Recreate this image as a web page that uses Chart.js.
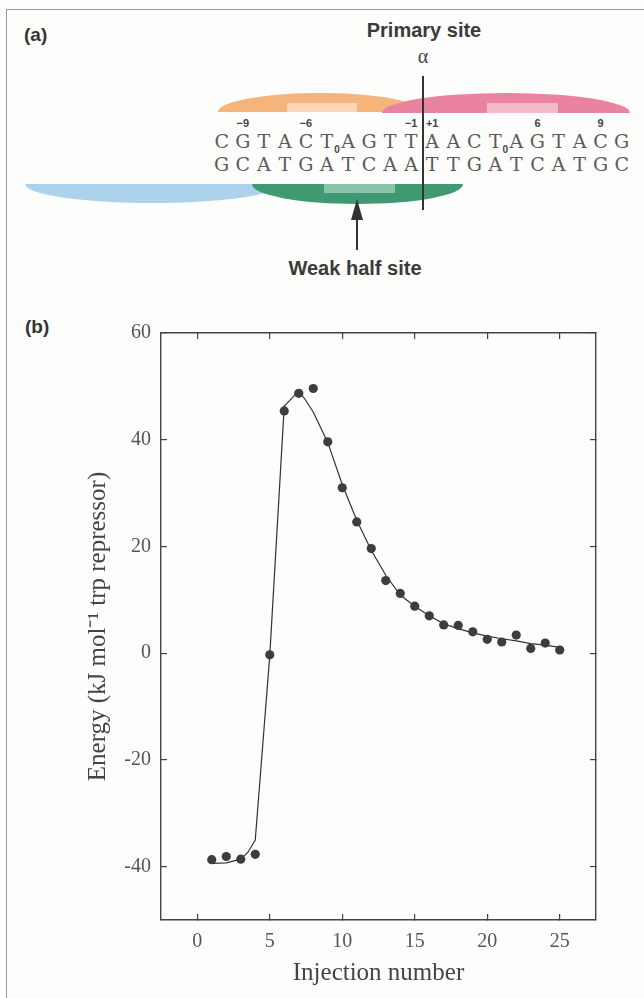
<!DOCTYPE html>
<html>
<head>
<meta charset="utf-8">
<script src="https://cdn.jsdelivr.net/npm/chart.js@4.4.1/dist/chart.umd.min.js"></script>
<style>
  body { margin: 0; background: #fff; }
  #page { position: relative; width: 644px; height: 998px; overflow: hidden; background: #fdfdfb; }
  #frame { position: absolute; left: 6px; top: 9px; right: -10px; bottom: -10px;
           border-top: 1.5px solid #9a9a9a; border-left: 1.5px solid #9a9a9a; }
  #chartBox { position: absolute; left: 0; top: 290px; width: 644px; height: 708px; }
  #diagram { position: absolute; left: 0; top: 0; }
</style>
</head>
<body>
<div id="page">
  <div id="frame"></div>
  <svg id="diagram" width="644" height="345" xmlns="http://www.w3.org/2000/svg"></svg>
  <div id="chartBox"><canvas id="energyChart" width="644" height="708"></canvas></div>
</div>
<script>
// ---- panel (b) data ----
const injection = [1, 2, 3, 4, 5, 6, 7, 8, 9, 10, 11, 12, 13, 14, 15, 16, 17, 18, 19, 20, 21, 22, 23, 24, 25];
const energy = [-38.7, -38.1, -38.6, -37.7, -0.3, 45.4, 48.7, 49.6, 39.6, 31.0, 24.6, 19.6, 13.6,
                11.2, 8.8, 7.0, 5.3, 5.2, 4.0, 2.6, 2.1, 3.4, 0.9, 1.9, 0.6];
// fitted curve
const fitInjection = [1, 2, 3, 3.5, 4, 5, 6, 6.5, 7, 7.5, 8, 9, 10, 11, 12, 13, 14, 15, 16, 17, 18, 19, 20, 21, 22, 23, 24, 25];
const fitEnergy = [-39.4, -39.3, -38.6, -37.3, -35.0, -0.5, 46.3, 47.7, 49.2, 47.3, 45.2, 39.5, 31.6, 24.9, 19.3, 14.6,
                   10.9, 8.8, 7.0, 5.5, 4.6, 3.8, 3.2, 2.7, 2.3, 1.8, 1.5, 1.1];
const xTicks = [0, 5, 10, 15, 20, 25];
const yTicks = [-40, -20, 0, 20, 40, 60];

// ---- panel (a) data ----
const topStrand = ['C','G','T','A','C','T','A','G','T','T','A','A','C','T','A','G','T','A','C','G'];
const bottomStrand = ['G','C','A','T','G','A','T','C','A','A','T','T','G','A','T','C','A','T','G','C'];
const positionLabels = ['−9', '−6', '−1', '+1', '6', '9'];
const positionIndex = [1, 4, 9, 10, 15, 18];
const subscriptIndex = [5, 13];

// ---- draw panel (a) as svg ----
const svg = document.getElementById('diagram');
const NS = 'http://www.w3.org/2000/svg';
function el(tag, attrs, text) {
  const e = document.createElementNS(NS, tag);
  for (const k in attrs) e.setAttribute(k, attrs[k]);
  if (text !== undefined) e.textContent = text;
  svg.appendChild(e);
  return e;
}
// half-ellipse blobs, up = dome above the base line
function blob(x1, x2, base, h, up, color) {
  const rx = (x2 - x1) / 2;
  el('path', { d: `M${x1} ${base} A${rx} ${h} 0 0 ${up ? 1 : 0} ${x2} ${base} Z`, fill: color });
}
const sans = 'Liberation Sans, Arial, sans-serif';
const strandFont = 'DejaVu Serif, serif';

el('text', { x: 24, y: 41, 'font-family': sans, 'font-weight': 'bold', 'font-size': 19, fill: '#333' }, '(a)');
el('text', { x: 424, y: 37, 'font-family': sans, 'font-weight': 'bold', 'font-size': 20,
             fill: '#3a3a3a', 'text-anchor': 'middle' }, 'Primary site');
el('text', { x: 423, y: 63, 'font-family': 'Liberation Serif, serif', 'font-size': 20,
             fill: '#444', 'text-anchor': 'middle' }, 'α');

blob(218, 422, 112, 19, true, '#f4b47c');
el('rect', { x: 287, y: 103, width: 70, height: 9, fill: 'rgba(255,255,255,0.45)' });
blob(382, 630, 113, 20, true, '#e9839f');
el('rect', { x: 487, y: 103, width: 71, height: 10, fill: 'rgba(255,255,255,0.45)' });

blob(25, 280, 184, 19, false, '#acd2ec');
blob(252, 463, 184, 20, false, '#3f9a72');
el('rect', { x: 324, y: 184, width: 71, height: 9, fill: 'rgba(255,255,255,0.4)' });

const baseX = 221.7, step = 21.05;
topStrand.forEach((b, i) => el('text', { x: baseX + i * step, y: 148, 'font-family': strandFont,
  'font-size': 19, fill: '#5a5a5a', 'text-anchor': 'middle' }, b));
bottomStrand.forEach((b, i) => el('text', { x: baseX + i * step, y: 171, 'font-family': strandFont,
  'font-size': 19, fill: '#5a5a5a', 'text-anchor': 'middle' }, b));
positionLabels.forEach((t, i) => el('text', { x: baseX + positionIndex[i] * step, y: 127, 'font-family': sans,
  'font-weight': 'bold', 'font-size': 11, fill: '#444', 'text-anchor': 'middle' }, t));
subscriptIndex.forEach(i => el('text', { x: baseX + i * step + 10, y: 153, 'font-family': sans,
  'font-weight': 'bold', 'font-size': 10, fill: '#444', 'text-anchor': 'middle' }, '0'));

el('line', { x1: 423, y1: 76, x2: 423, y2: 210, stroke: '#333', 'stroke-width': 2 });
el('line', { x1: 357, y1: 250, x2: 357, y2: 215, stroke: '#333', 'stroke-width': 2 });
el('polygon', { points: '357,199 351,220 363,220', fill: '#333' });
el('text', { x: 355, y: 275, 'font-family': sans, 'font-weight': 'bold', 'font-size': 20,
             fill: '#3a3a3a', 'text-anchor': 'middle' }, 'Weak half site');
el('text', { x: 25, y: 333, 'font-family': sans, 'font-weight': 'bold', 'font-size': 19, fill: '#333' }, '(b)');

// ---- panel (b) chart ----
const axisColor = '#444';
const tickFont = { family: 'Liberation Serif, Times New Roman, serif', size: 20 };
const titleFont = { family: 'Liberation Serif, Times New Roman, serif', size: 25 };

function frameAxis(position, min, max, ticks, extra) {
  return Object.assign({
    type: 'linear', position, min, max,
    afterBuildTicks: s => { s.ticks = ticks.map(v => ({ value: v })); },
    grid: { drawOnChartArea: false, tickLength: -6, color: axisColor, lineWidth: 1.2 },
    border: { color: axisColor, width: 1.4 },
    ticks: { display: false }
  }, extra);
}

const ctx = document.getElementById('energyChart').getContext('2d');
new Chart(ctx, {
  type: 'scatter',
  data: {
    datasets: [
      {
        label: 'Measured',
        data: injection.map((x, i) => ({ x, y: energy[i] })),
        pointRadius: 4.6,
        pointBackgroundColor: '#3d3d3d',
        pointBorderWidth: 0,
        showLine: false
      },
      {
        label: 'Fit',
        data: fitInjection.map((x, i) => ({ x, y: fitEnergy[i] })),
        showLine: true,
        borderColor: '#333',
        borderWidth: 1.2,
        pointRadius: 0,
        tension: 0,
        fill: false
      }
    ]
  },
  options: {
    responsive: false,
    animation: false,
    devicePixelRatio: 1,
    layout: { padding: { top: 43, right: 48, left: 0, bottom: 0 } },
    plugins: { legend: { display: false }, tooltip: { enabled: false } },
    scales: {
      x: frameAxis('bottom', -2.5, 27.5, xTicks, {
        afterFit: s => { s.height = 78; },
        ticks: { display: true, padding: 16, color: '#555', font: tickFont, maxRotation: 0, autoSkip: false },
        title: { display: true, text: 'Injection number', color: '#444', font: titleFont,
                 padding: { top: 0, bottom: 10 } }
      }),
      y: frameAxis('left', -50, 60, yTicks, {
        afterFit: s => { s.width = 161; },
        ticks: { display: true, padding: 16, color: '#555', font: tickFont },
        title: { display: true, text: 'Energy (kJ mol⁻¹ trp repressor)', color: '#444', font: titleFont,
                 padding: { top: 83, bottom: 0 } }
      }),
      x2: frameAxis('top', -2.5, 27.5, xTicks, { afterFit: s => { s.height = 0; } }),
      y2: frameAxis('right', -50, 60, yTicks, { afterFit: s => { s.width = 0; } })
    }
  }
});
</script>
</body>
</html>
